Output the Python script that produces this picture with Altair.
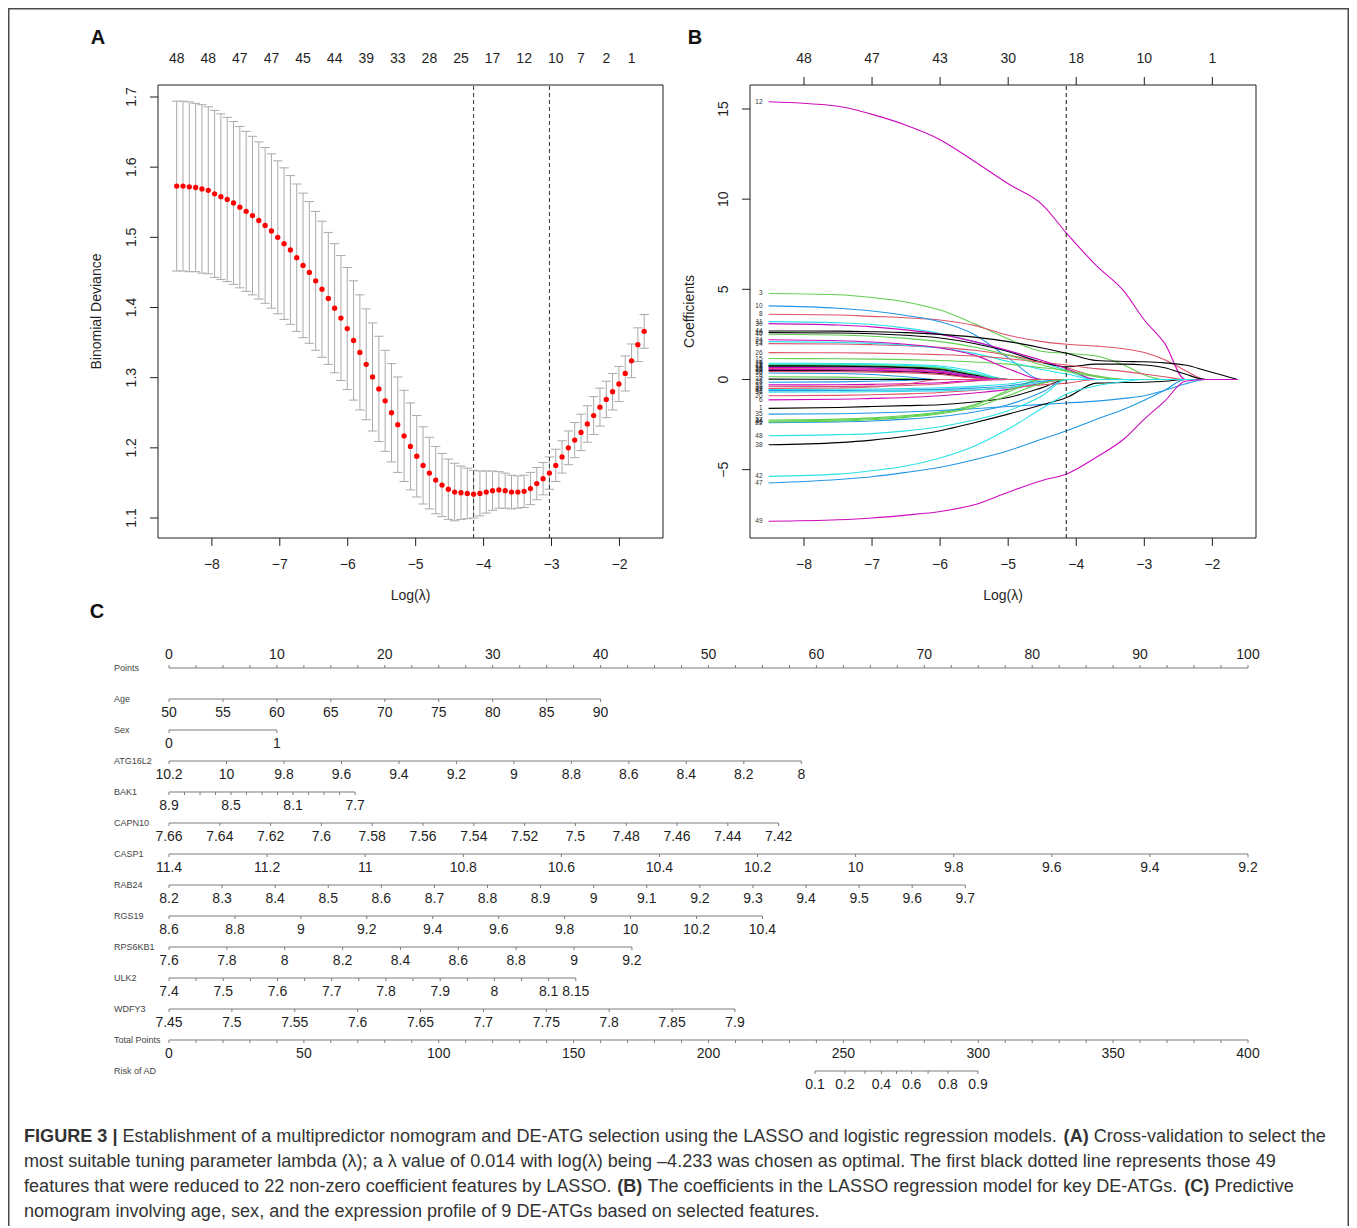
import altair as alt
import pandas as pd

FONT = "Liberation Sans"
INK = "#1f1f1f"

# ======================= Panel A : cross-validation =======================
log_lambda = [-8.518, -8.425, -8.332, -8.239, -8.146, -8.053, -7.960, -7.867, -7.774, -7.681,
              -7.588, -7.495, -7.402, -7.309, -7.216, -7.123, -7.030, -6.937, -6.844, -6.751,
              -6.658, -6.565, -6.472, -6.379, -6.286, -6.193, -6.100, -6.007, -5.914, -5.821,
              -5.728, -5.635, -5.542, -5.449, -5.356, -5.263, -5.170, -5.077, -4.984, -4.891,
              -4.798, -4.705, -4.612, -4.519, -4.426, -4.333, -4.240, -4.147, -4.054, -3.961,
              -3.868, -3.775, -3.682, -3.589, -3.496, -3.403, -3.310, -3.217, -3.124, -3.031,
              -2.938, -2.845, -2.752, -2.659, -2.566, -2.473, -2.380, -2.287, -2.194, -2.101,
              -2.008, -1.915, -1.822, -1.729, -1.636]
cv_mean = [1.573, 1.573, 1.572, 1.571, 1.569, 1.567, 1.562, 1.558, 1.554, 1.549,
           1.543, 1.537, 1.531, 1.524, 1.517, 1.509, 1.500, 1.491, 1.482, 1.471,
           1.460, 1.450, 1.438, 1.426, 1.413, 1.399, 1.385, 1.370, 1.353, 1.336,
           1.319, 1.301, 1.284, 1.267, 1.250, 1.233, 1.217, 1.202, 1.188, 1.175,
           1.164, 1.154, 1.147, 1.141, 1.137, 1.136, 1.135, 1.134, 1.135, 1.137,
           1.139, 1.140, 1.139, 1.137, 1.137, 1.138, 1.142, 1.149, 1.156, 1.164,
           1.175, 1.187, 1.200, 1.211, 1.222, 1.234, 1.246, 1.258, 1.269, 1.280,
           1.291, 1.306, 1.324, 1.347, 1.366]
cv_sd = [0.121, 0.121, 0.121, 0.120, 0.120, 0.119, 0.119, 0.118, 0.117, 0.116,
         0.115, 0.114, 0.113, 0.112, 0.111, 0.110, 0.109, 0.108, 0.106, 0.105,
         0.103, 0.101, 0.099, 0.097, 0.094, 0.092, 0.089, 0.087, 0.085, 0.082,
         0.079, 0.077, 0.075, 0.072, 0.070, 0.068, 0.065, 0.062, 0.058, 0.055,
         0.051, 0.048, 0.045, 0.043, 0.041, 0.038, 0.036, 0.034, 0.032, 0.030,
         0.028, 0.026, 0.025, 0.024, 0.023, 0.023, 0.023, 0.023, 0.023, 0.023,
         0.023, 0.023, 0.024, 0.025, 0.026, 0.026, 0.027, 0.027, 0.026, 0.026,
         0.025, 0.025, 0.024, 0.024, 0.024]
nz_label_index = [0, 5, 10, 15, 20, 25, 30, 35, 40, 45, 50, 55, 60, 64, 68, 72]
nz_labels = ["48", "48", "47", "47", "45", "44", "39", "33", "28", "25", "17", "12", "10", "7", "2", "1"]
lambda_min_log = -4.147
lambda_1se_log = -3.031
lambda_ticks = [-8, -7, -6, -5, -4, -3, -2]
deviance_ticks = [1.1, 1.2, 1.3, 1.4, 1.5, 1.6, 1.7]

# ======================= Panel B : coefficient paths =======================
b_knots = [-8.52, -7.5, -7.0, -6.5, -6.0, -5.5, -5.0, -4.5, -4.14, -3.7, -3.3, -3.0, -2.7, -2.4, -2.1, -1.63]
b_var_ids = [v for v in range(1, 50) if v != 31]
b_v1 = [-1.6, -1.55, -1.5, -1.45, -1.4, -1.25, -1.0, -0.45, 0]
b_v2 = [0.60, 0.59, 0.57, 0.52, 0.42, 0.15, 0]
b_v3 = [4.77, 4.7, 4.55, 4.3, 3.85, 3.1, 2.25, 1.55, 1.45, 1.3, 0.8, 0.25, 0]
b_v4 = [0.70, 0.69, 0.67, 0.62, 0.5, 0.2, 0]
b_v5 = [0.90, 0.89, 0.87, 0.83, 0.75, 0.45, 0]
b_v6 = [-1.13, -1.1, -1.05, -1.0, -0.9, -0.75, -0.55, -0.2, 0]
b_v7 = [0.78, 0.77, 0.75, 0.7, 0.6, 0.28, 0]
b_v8 = [3.62, 3.58, 3.5, 3.42, 3.3, 3.0, 2.45, 2.1, 1.95, 1.85, 1.7, 1.5, 1.1, 0.5, 0]
b_v9 = [0.15, 0.13, 0.1, 0.05, 0]
b_v10 = [4.08, 3.95, 3.8, 3.55, 3.2, 2.5, 1.2, 0]
b_v11 = [3.21, 3.15, 3.05, 2.85, 2.55, 2.1, 1.55, 0.95, 0.5, 0]
b_v12 = [15.4, 15.15, 14.7, 14.1, 13.3, 12.1, 10.85, 9.7, 8.1, 6.3, 4.9, 3.3, 2.0, 0]
b_v13 = [0.74, 0.73, 0.71, 0.66, 0.55, 0.25, 0]
b_v14 = [1.99, 1.97, 1.93, 1.87, 1.78, 1.62, 1.35, 0.95, 0.65, 0.15, 0]
b_v15 = [1.16, 1.15, 1.13, 1.1, 1.05, 0.97, 0.85, 0.65, 0.5, 0.2, 0]
b_v16 = [0.36, 0.33, 0.28, 0.15, 0]
b_v17 = [-0.55, -0.54, -0.53, -0.5, -0.46, -0.38, -0.25, 0]
b_v18 = [0.66, 0.65, 0.63, 0.58, 0.47, 0.18, 0]
b_v19 = [2.60, 2.58, 2.54, 2.45, 2.3, 2.0, 1.55, 0.95, 0.7, 0.85, 0.85, 0.8, 0.65, 0.3, 0]
b_v20 = [-0.9, -0.88, -0.85, -0.8, -0.72, -0.6, -0.45, -0.3, -0.2, 0]
b_v21 = [0.82, 0.81, 0.79, 0.74, 0.63, 0.3, 0]
b_v22 = [-2.4, -2.35, -2.3, -2.2, -2.05, -1.8, -1.4, -0.7, 0]
b_v23 = [2.1, 2.06, 2.0, 1.9, 1.75, 1.45, 1.0, 0.55, 0.3, 0]
b_v24 = [2.2, 2.15, 2.08, 1.95, 1.75, 1.35, 0.6, 0]
b_v25 = [0.50, 0.49, 0.47, 0.43, 0.34, 0.1, 0]
b_v26 = [1.49, 1.48, 1.46, 1.43, 1.38, 1.3, 1.15, 0.95, 0.8, 0.6, 0.45, 0.3, 0.15, 0]
b_v27 = [-2.25, -2.2, -2.13, -2.0, -1.8, -1.4, -0.7, 0]
b_v28 = [-0.15, -0.13, -0.1, -0.05, 0]
b_v29 = [0.86, 0.85, 0.83, 0.78, 0.68, 0.35, 0]
b_v30 = [3.10, 3.02, 2.92, 2.75, 2.5, 2.1, 1.6, 1.05, 0.6, 0]
b_v32 = [0.02, 0.01, 0]
b_v33 = [-0.4, -0.39, -0.37, -0.33, -0.25, -0.08, 0]
b_v34 = [-2.3, -2.25, -2.18, -2.05, -1.85, -1.45, -0.6, 0]
b_v35 = [-1.92, -1.9, -1.86, -1.8, -1.72, -1.62, -1.5, -1.38, -1.3, -1.2, -1.05, -0.9, -0.6, -0.25, 0]
b_v36 = [-0.7, -0.69, -0.68, -0.66, -0.63, -0.57, -0.45, -0.15, 0]
b_v37 = [-0.3, -0.29, -0.27, -0.24, -0.18, -0.06, 0]
b_v38 = [-3.62, -3.5, -3.36, -3.15, -2.84, -2.4, -1.92, -1.4, -1.0, -0.2, -0.17, -0.15, -0.1, 0]
b_v39 = [0.44, 0.43, 0.41, 0.37, 0.28, 0.08, 0]
b_v40 = [2.51, 2.47, 2.4, 2.28, 2.1, 1.8, 1.35, 0.8, 0.45, 0.15, 0]
b_v41 = [-0.62, -0.61, -0.6, -0.58, -0.55, -0.48, -0.35, -0.1, 0]
b_v42 = [-5.37, -5.25, -5.06, -4.8, -4.35, -3.7, -2.75, -1.6, -0.8, -0.35, -0.12, 0]
b_v43 = [0.55, 0.54, 0.52, 0.47, 0.38, 0.13, 0]
b_v44 = [2.69, 2.68, 2.65, 2.6, 2.5, 2.35, 2.1, 1.75, 1.45, 1.05, 1.0, 0.98, 0.92, 0.8, 0.5, 0]
b_v45 = [-0.5, -0.47, -0.42, -0.25, 0]
b_v46 = [-2.35, -2.3, -2.23, -2.1, -1.9, -1.55, -0.9, -0.2, 0]
b_v47 = [-5.74, -5.55, -5.39, -5.15, -4.87, -4.45, -3.95, -3.3, -2.84, -2.2, -1.65, -1.15, -0.6, 0]
b_v48 = [-3.12, -3.06, -3.0, -2.85, -2.62, -2.25, -1.73, -0.9, 0]
b_v49 = [-7.86, -7.78, -7.68, -7.52, -7.32, -6.95, -6.25, -5.6, -5.24, -4.3, -3.3, -2.2, -1.2, -0.1, 0]
b_top_labels = ["48", "47", "43", "30", "18", "10", "1"]
coef_ticks = [-5, 0, 5, 10, 15]
r_palette = ["#000000", "#DF536B", "#61D04F", "#2297E6", "#28E2E5", "#CD0BBC"]

# ======================= Panel C : nomogram =======================
row_names = ["Points", "Age", "Sex", "ATG16L2", "BAK1", "CAPN10", "CASP1", "RAB24",
             "RGS19", "RPS6KB1", "ULK2", "WDFY3", "Total Points", "Risk of AD"]
points_labels = ["0", "10", "20", "30", "40", "50", "60", "70", "80", "90", "100"]
age_labels = ["50", "55", "60", "65", "70", "75", "80", "85", "90"]
sex_labels = ["0", "1"]
atg16l2_labels = ["10.2", "10", "9.8", "9.6", "9.4", "9.2", "9", "8.8", "8.6", "8.4", "8.2", "8"]
bak1_labels = ["8.9", "8.5", "8.1", "7.7"]
bak1_ticks = [8.9, 8.8, 8.7, 8.6, 8.5, 8.4, 8.3, 8.2, 8.1, 8.0, 7.9, 7.8, 7.7]
capn10_labels = ["7.66", "7.64", "7.62", "7.6", "7.58", "7.56", "7.54", "7.52", "7.5", "7.48", "7.46", "7.44", "7.42"]
casp1_labels = ["11.4", "11.2", "11", "10.8", "10.6", "10.4", "10.2", "10", "9.8", "9.6", "9.4", "9.2"]
rab24_labels = ["8.2", "8.3", "8.4", "8.5", "8.6", "8.7", "8.8", "8.9", "9", "9.1", "9.2", "9.3", "9.4", "9.5", "9.6", "9.7"]
rgs19_labels = ["8.6", "8.8", "9", "9.2", "9.4", "9.6", "9.8", "10", "10.2", "10.4"]
rps6kb1_labels = ["7.6", "7.8", "8", "8.2", "8.4", "8.6", "8.8", "9", "9.2"]
ulk2_labels = ["7.4", "7.5", "7.6", "7.7", "7.8", "7.9", "8", "8.1", "8.15"]
ulk2_ticks = [7.4, 7.45, 7.5, 7.55, 7.6, 7.65, 7.7, 7.75, 7.8, 7.85, 7.9, 7.95, 8.0, 8.05, 8.1, 8.15]
wdfy3_labels = ["7.45", "7.5", "7.55", "7.6", "7.65", "7.7", "7.75", "7.8", "7.85", "7.9"]
# (value at 0 points, value at end of axis, points at end of axis)
var_ends = {
    "Age": (50, 90, 40.0), "Sex": (0, 1, 10.0), "ATG16L2": (10.2, 8.0, 58.6),
    "BAK1": (8.9, 7.7, 17.25), "CAPN10": (7.66, 7.42, 56.5), "CASP1": (11.4, 9.2, 100.0),
    "RAB24": (8.2, 9.7, 73.8), "RGS19": (8.6, 10.4, 55.0), "RPS6KB1": (7.6, 9.2, 42.9),
    "ULK2": (7.4, 8.15, 37.7), "WDFY3": (7.45, 7.9, 52.45),
}
total_labels = ["0", "50", "100", "150", "200", "250", "300", "350", "400"]
total_ticks = [0, 10, 20, 30, 40, 50, 60, 70, 80, 90, 100, 110, 120, 130, 140, 150, 160, 170, 180, 190, 200,
               210, 220, 230, 240, 250, 260, 270, 280, 290, 300, 310, 320, 330, 340, 350, 360, 370, 380, 390, 400]
risk_labels = ["0.1", "0.2", "0.4", "0.6", "0.8", "0.9"]
risk_label_tp = [239.5, 250.6, 264.1, 275.3, 288.8, 299.9]
risk_tick_tp = [239.5, 250.6, 258.0, 264.1, 269.7, 275.3, 281.4, 288.8, 299.9]

caption_lines = [
    [("b", "FIGURE 3 |"), ("r", " Establishment of a multipredictor nomogram and DE-ATG selection using the LASSO and logistic regression models. "),
     ("b", "(A)"), ("r", " Cross-validation to select the")],
    [("r", "most suitable tuning parameter lambda (\u03bb); a \u03bb value of 0.014 with log(\u03bb) being \u20134.233 was chosen as optimal. The first black dotted line represents those 49")],
    [("r", "features that were reduced to 22 non-zero coefficient features by LASSO. "), ("b", "(B)"),
     ("r", " The coefficients in the LASSO regression model for key DE-ATGs. "), ("b", "(C)"), ("r", " Predictive")],
    [("r", "nomogram involving age, sex, and the expression profile of 9 DE-ATGs based on selected features.")],
]

# ======================= layout (pixels in the canvas) =======================
W, H = 1341, 1218
A_BOX_X = [150, 655]
B_BOX_X = [742, 1248]
BOX_Y = [530, 77]
LAM_DOM = [-8.793, -1.359]
A_YDOM = [1.0715, 1.7171]
B_YDOM = [-8.79, 16.33]
C_X = [161, 1240]
C_Y = [660, 1063]


def minus(s):
    return s.replace("-", "\u2212")


def qx(f, sc):
    return alt.X(f, type="quantitative", scale=sc, axis=None)


def qy(f, sc):
    return alt.Y(f, type="quantitative", scale=sc, axis=None)


def r_frame(xsc, ysc, xticks, xlabels, yticks, ylabels):
    """box + bottom/left axes drawn in the R base-graphics style."""
    box = alt.Chart(pd.DataFrame({"x0": [LAM_DOM[0]], "x1": [LAM_DOM[1]],
                                  "y0": [ysc.domain[0]], "y1": [ysc.domain[1]]})).mark_rect(
        fillOpacity=0, stroke=INK, strokeWidth=1).encode(x=qx("x0", xsc), x2="x1", y=qy("y0", ysc), y2="y1")
    dfx = pd.DataFrame({"v": xticks, "y": ysc.domain[0], "t": xlabels})
    xt = alt.Chart(dfx).mark_rule(color=INK, y2Offset=8).encode(x=qx("v", xsc), y=qy("y", ysc), y2="y")
    xl = alt.Chart(dfx).mark_text(font=FONT, fontSize=14, color=INK, yOffset=27, baseline="middle").encode(
        x=qx("v", xsc), y=qy("y", ysc), text="t:N")
    dfy = pd.DataFrame({"v": yticks, "x": LAM_DOM[0], "t": ylabels})
    yt = alt.Chart(dfy).mark_rule(color=INK, x2Offset=-8).encode(x=qx("x", xsc), x2="x", y=qy("v", ysc))
    yl = alt.Chart(dfy).mark_text(font=FONT, fontSize=14, color=INK, angle=270, xOffset=-26,
                                  align="center", baseline="middle").encode(
        x=qx("x", xsc), y=qy("v", ysc), text="t:N")
    return [box, xt, xl, yt, yl]


# ---------------- Panel A ----------------
ax = alt.Scale(domain=LAM_DOM, range=A_BOX_X, nice=False, zero=False)
ay = alt.Scale(domain=A_YDOM, range=BOX_Y, nice=False, zero=False)
dfA = pd.DataFrame({"lam": log_lambda, "m": cv_mean, "sd": cv_sd})
dfA["lo"] = dfA["m"] - dfA["sd"]
dfA["up"] = dfA["m"] + dfA["sd"]
barw = 0.01 * (max(log_lambda) - min(log_lambda))
caps = pd.concat([
    pd.DataFrame({"xl": dfA["lam"] - barw, "xr": dfA["lam"] + barw, "y": dfA["up"]}),
    pd.DataFrame({"xl": dfA["lam"] - barw, "xr": dfA["lam"] + barw, "y": dfA["lo"]}),
])
a_bars = alt.Chart(dfA).mark_rule(color="#AAAAAA", strokeWidth=1).encode(x=qx("lam", ax), y=qy("lo", ay), y2="up")
a_caps = alt.Chart(caps).mark_rule(color="#AAAAAA", strokeWidth=1).encode(x=qx("xl", ax), x2="xr", y=qy("y", ay))
a_pts = alt.Chart(dfA).mark_circle(color="#FF0000", size=28, opacity=1).encode(x=qx("lam", ax), y=qy("m", ay))
a_dash = alt.Chart(pd.DataFrame({"lam": [lambda_min_log, lambda_1se_log], "y0": A_YDOM[0], "y1": A_YDOM[1]})).mark_rule(
    color="#333333", strokeDash=[4, 3], strokeWidth=1).encode(x=qx("lam", ax), y=qy("y0", ay), y2="y1")
dfAtop = pd.DataFrame({"lam": [log_lambda[i] for i in nz_label_index], "y": A_YDOM[1], "t": nz_labels})
a_top = alt.Chart(dfAtop).mark_text(font=FONT, fontSize=14, color=INK, yOffset=-26, baseline="middle").encode(
    x=qx("lam", ax), y=qy("y", ay), text="t:N")
panelA = alt.layer(a_bars, a_caps, a_dash, a_pts, a_top,
                   *r_frame(ax, ay, lambda_ticks, [minus(str(v)) for v in lambda_ticks],
                            deviance_ticks, [f"{v:.1f}" for v in deviance_ticks]))

# ---------------- Panel B ----------------
bx = alt.Scale(domain=LAM_DOM, range=B_BOX_X, nice=False, zero=False)
by = alt.Scale(domain=B_YDOM, range=BOX_Y, nice=False, zero=False)
rows = []
for pos, v in enumerate(b_var_ids):
    vals = list(globals()[f"b_v{v}"])
    vals = vals + [0.0] * (len(b_knots) - len(vals))   # coefficient stays at zero once it leaves
    for k, (lam, c) in enumerate(zip(b_knots, vals)):
        rows.append({"var": v, "k": k, "lam": lam, "coef": c, "col": str(pos % 6)})
dfB = pd.DataFrame(rows)
b_lines = alt.Chart(dfB).mark_line(interpolate="monotone", strokeWidth=1.1).encode(
    x=qx("lam", bx), y=qy("coef", by),
    color=alt.Color("col:N", scale=alt.Scale(domain=[str(i) for i in range(6)], range=r_palette), legend=None),
    detail="var:N", order="k:Q")
dfBlab = dfB[dfB["k"] == 0].assign(t=lambda d: d["var"].astype(str))
b_labs = alt.Chart(dfBlab).mark_text(font=FONT, fontSize=6.5, color="#333333", align="right", dx=-6,
                                     baseline="middle").encode(x=qx("lam", bx), y=qy("coef", by), text="t:N")
b_dash = alt.Chart(pd.DataFrame({"lam": [lambda_min_log], "y0": B_YDOM[0], "y1": B_YDOM[1]})).mark_rule(
    color="#111111", strokeDash=[4, 3], strokeWidth=1).encode(x=qx("lam", bx), y=qy("y0", by), y2="y1")
dfBtop = pd.DataFrame({"v": lambda_ticks, "y": B_YDOM[1], "t": b_top_labels})
b_toptick = alt.Chart(dfBtop).mark_rule(color=INK, y2Offset=-8).encode(x=qx("v", bx), y=qy("y", by), y2="y")
b_toplab = alt.Chart(dfBtop).mark_text(font=FONT, fontSize=14, color=INK, yOffset=-26, baseline="middle").encode(
    x=qx("v", bx), y=qy("y", by), text="t:N")
panelB = alt.layer(b_lines, b_labs, b_dash, b_toptick, b_toplab,
                   *r_frame(bx, by, lambda_ticks, [minus(str(v)) for v in lambda_ticks],
                            coef_ticks, [minus(str(v)) for v in coef_ticks]))

# ---------------- Panel C ----------------
cx = alt.Scale(domain=[0, 100], range=C_X, nice=False, zero=False)
cy = alt.Scale(domain=[0, 13], range=C_Y, nice=False, zero=False)
line_rows, tick_rows, lab_rows = [], [], []


def to_pts(name, val):
    v0, v1, pmax = var_ends[name]
    return (val - v0) / (v1 - v0) * pmax


# Points axis (row 0)
line_rows.append({"row": 0, "p0": 0.0, "p1": 100.0})
for i in range(41):
    tick_rows.append({"row": 0, "p": i * 2.5, "up": 1})
for s in points_labels:
    lab_rows.append({"row": 0, "p": float(s), "t": s, "up": 1})

var_specs = [("Age", age_labels, None), ("Sex", sex_labels, None), ("ATG16L2", atg16l2_labels, None),
             ("BAK1", bak1_labels, bak1_ticks), ("CAPN10", capn10_labels, None), ("CASP1", casp1_labels, None),
             ("RAB24", rab24_labels, None), ("RGS19", rgs19_labels, None), ("RPS6KB1", rps6kb1_labels, None),
             ("ULK2", ulk2_labels, ulk2_ticks), ("WDFY3", wdfy3_labels, None)]
for name, labs, ticks in var_specs:
    r = row_names.index(name)
    line_rows.append({"row": r, "p0": 0.0, "p1": var_ends[name][2]})
    for t in (ticks if ticks is not None else [float(s) for s in labs]):
        tick_rows.append({"row": r, "p": to_pts(name, t), "up": 0})
    for s in labs:
        lab_rows.append({"row": r, "p": to_pts(name, float(s)), "t": s, "up": 0})

# Total points (row 12) and risk (row 13)
line_rows.append({"row": 12, "p0": 0.0, "p1": 100.0})
for t in total_ticks:
    tick_rows.append({"row": 12, "p": t / 4.0, "up": 0})
for s in total_labels:
    lab_rows.append({"row": 12, "p": float(s) / 4.0, "t": s, "up": 0})
line_rows.append({"row": 13, "p0": risk_tick_tp[0] / 4.0, "p1": risk_tick_tp[-1] / 4.0})
for t in risk_tick_tp:
    tick_rows.append({"row": 13, "p": t / 4.0, "up": 0})
for s, t in zip(risk_labels, risk_label_tp):
    lab_rows.append({"row": 13, "p": t / 4.0, "t": s, "up": 0})

dfL = pd.DataFrame(line_rows)
dfT = pd.DataFrame(tick_rows)
dfLab = pd.DataFrame(lab_rows)
GRAYLINE = "#7d7d7d"
c_lines = alt.Chart(dfL).mark_rule(color=GRAYLINE, strokeWidth=1).encode(x=qx("p0", cx), x2="p1", y=qy("row", cy))
c_tdown = alt.Chart(dfT[dfT["up"] == 0]).mark_rule(color=GRAYLINE, strokeWidth=1, y2Offset=3).encode(
    x=qx("p", cx), y=qy("row", cy), y2="row")
c_tup = alt.Chart(dfT[dfT["up"] == 1]).mark_rule(color=GRAYLINE, strokeWidth=1, y2Offset=-3).encode(
    x=qx("p", cx), y=qy("row", cy), y2="row")
c_lbelow = alt.Chart(dfLab[dfLab["up"] == 0]).mark_text(font=FONT, fontSize=14, color=INK, yOffset=14,
                                                        baseline="middle").encode(
    x=qx("p", cx), y=qy("row", cy), text="t:N")
c_labove = alt.Chart(dfLab[dfLab["up"] == 1]).mark_text(font=FONT, fontSize=14, color=INK, yOffset=-13,
                                                        baseline="middle").encode(
    x=qx("p", cx), y=qy("row", cy), text="t:N")
c_names = alt.Chart(pd.DataFrame({"row": list(range(len(row_names))), "t": row_names})).mark_text(
    font=FONT, fontSize=9, color="#444444", align="left", baseline="middle").encode(
    x=alt.value(106), y=qy("row", cy), text="t:N")
panelC = alt.layer(c_lines, c_tdown, c_tup, c_lbelow, c_labove, c_names)

# ---------------- decorations: frame, panel letters, axis titles, caption ----------------
AR = {' ': 278, '(': 333, ')': 333, ',': 278, '-': 333, '.': 278, ';': 278, '|': 260, '\u2013': 556, '\u03bb': 500,
      'A': 667, 'B': 667, 'C': 722, 'D': 722, 'E': 667, 'F': 611, 'G': 778, 'H': 722, 'I': 278, 'J': 500,
      'K': 667, 'L': 556, 'M': 833, 'N': 722, 'O': 778, 'P': 667, 'Q': 778, 'R': 722, 'S': 667, 'T': 611,
      'U': 722, 'V': 667, 'W': 944, 'X': 667, 'Y': 667, 'Z': 611,
      'a': 556, 'b': 556, 'c': 500, 'd': 556, 'e': 556, 'f': 278, 'g': 556, 'h': 556, 'i': 222, 'j': 222,
      'k': 500, 'l': 222, 'm': 833, 'n': 556, 'o': 556, 'p': 556, 'q': 556, 'r': 333, 's': 500, 't': 278,
      'u': 556, 'v': 500, 'w': 722, 'x': 500, 'y': 500, 'z': 500}
AB = {' ': 278, '(': 333, ')': 333, '|': 280, 'A': 722, 'B': 722, 'C': 722, 'E': 667, 'F': 611, 'G': 778,
      'I': 278, 'R': 722, 'U': 722}


def em(s, bold):
    tab = AB if bold else AR
    return sum(tab.get(ch, 556) for ch in s) / 1000.0


cap_fs = 1302.0 / sum(em(t, w == "b") for w, t in caption_lines[0])
cap_rows = []
for li, segs in enumerate(caption_lines):
    cur = 16.0
    for w, t in segs:
        lead = len(t) - len(t.lstrip(" "))
        cap_rows.append({"x": cur + em(" " * lead, w == "b") * cap_fs, "y": 1129 + 25 * li,
                         "t": t.strip(" "), "w": w})
        cur += em(t, w == "b") * cap_fs
dfCap = pd.DataFrame(cap_rows)


def px_text(df, **mk):
    return alt.Chart(df).mark_text(font=FONT, baseline="middle", **mk).encode(
        x=alt.X("x:Q", scale=None, axis=None), y=alt.Y("y:Q", scale=None, axis=None), text="t:N")


cap_reg = px_text(dfCap[dfCap["w"] == "r"], fontSize=cap_fs, color="#333333", align="left")
cap_bold = px_text(dfCap[dfCap["w"] == "b"], fontSize=cap_fs, color="#333333", align="left", fontWeight="bold")
letters = px_text(pd.DataFrame({"x": [90, 687, 89], "y": [30, 30, 604], "t": ["A", "B", "C"]}),
                  fontSize=20, fontWeight="bold", color="#111111", align="center")
xtitles = px_text(pd.DataFrame({"x": [402.5, 995], "y": [588, 588], "t": ["Log(\u03bb)", "Log(\u03bb)"]}),
                  fontSize=14, color=INK, align="center")
ytitles = px_text(pd.DataFrame({"x": [89, 682], "y": [303.5, 303.5], "t": ["Binomial Deviance", "Coefficients"]}),
                  fontSize=14, color=INK, align="center", angle=270)
frame_df = pd.DataFrame({"x": [0.75, 0.0, W - 0.75], "x2": [0.75, W, W - 0.75],
                         "y": [0.0, 0.75, 0.0], "y2": [H, 0.75, H]})
frame = alt.Chart(frame_df).mark_rule(color="#4a4a4a", strokeWidth=1.5).encode(
    x=alt.X("x:Q", scale=None, axis=None), x2="x2", y=alt.Y("y:Q", scale=None, axis=None), y2="y2")
deco = alt.layer(frame, letters, xtitles, ytitles, cap_reg, cap_bold)

chart = alt.layer(panelA, panelB, panelC, deco).resolve_scale(
    x="independent", y="independent", color="independent"
).properties(
    width=W, height=H, padding=0, background="white",
    autosize=alt.AutoSizeParams(type="none", contains="padding"),
).configure_view(strokeWidth=0)

chart.save("out.html", embed_options={"renderer": "svg", "actions": False})
